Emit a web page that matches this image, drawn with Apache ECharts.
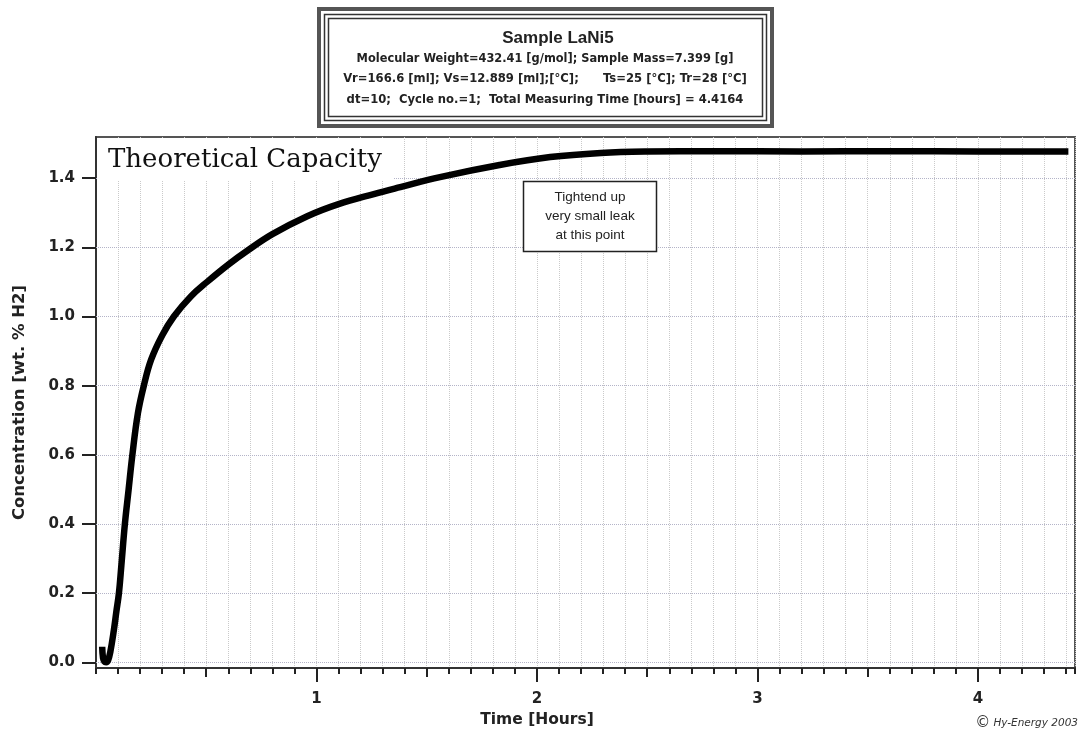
<!DOCTYPE html>
<html>
<head>
<meta charset="utf-8">
<script src="https://cdn.jsdelivr.net/npm/echarts@6/dist/echarts.min.js"></script>
<style>
html,body{margin:0;padding:0;background:#fff;}
#chart{width:1084px;height:736px;}
</style>
</head>
<body>
<div id="chart"></div>
<script>
// ---- data ----
const timeHours = [0.028, 0.032, 0.038, 0.046, 0.055, 0.065, 0.081, 0.092, 0.104, 0.115, 0.131, 0.148, 0.165, 0.19, 0.217, 0.25, 0.3, 0.353, 0.43, 0.504, 0.6, 0.686, 0.8, 0.958, 1.1, 1.26, 1.38, 1.56, 1.83, 2.06, 2.29, 2.5, 2.8, 3.2, 3.6, 4.0, 4.41];
const concentration = [0.045, 0.012, 0.002, 0.0, 0.006, 0.03, 0.093, 0.145, 0.2, 0.28, 0.4, 0.5, 0.6, 0.72, 0.8, 0.875, 0.945, 1.0, 1.058, 1.1, 1.15, 1.19, 1.238, 1.29, 1.325, 1.354, 1.374, 1.403, 1.438, 1.461, 1.473, 1.477, 1.478, 1.477, 1.478, 1.477, 1.477];
const yTickValues = [0.0, 0.2, 0.4, 0.6, 0.8, 1.0, 1.2, 1.4];
const xMajorTicks = [1, 2, 3, 4];
const xHalfTicks = [0.5, 1.5, 2.5, 3.5];
const titleLines = [
  'Molecular Weight=432.41 [g/mol]; Sample Mass=7.399 [g]',
  'Vr=166.6 [ml]; Vs=12.889 [ml];[°C];      Ts=25 [°C]; Tr=28 [°C]',
  'dt=10;  Cycle no.=1;  Total Measuring Time [hours] = 4.4164'
];
const annotationLines = ['Tightend up', 'very small leak', 'at this point'];

const seriesData = timeHours.map((t, i) => [t, concentration[i]]);

const chart = echarts.init(document.getElementById('chart'), null, {renderer: 'canvas'});
const FONT = 'DejaVu Sans';
const X_MIN = 0, X_MAX = 4.44, Y_MIN = -0.0165, Y_MAX = 1.519;

const baseX = {
  type: 'value', min: X_MIN, max: X_MAX, position: 'bottom',
  axisLine: {show: true, onZero: false, lineStyle: {color: '#333', width: 2}},
  axisLabel: {show: false}, splitLine: {show: false}
};

const option = {
  backgroundColor: '#fff',
  animation: false,
  grid: {left: 96, right: 9, top: 137, bottom: 68, show: true, borderColor: '#555', borderWidth: 2, containLabel: false},
  xAxis: [
    Object.assign({}, baseX, {
      interval: 0.1,
      axisTick: {show: true, length: 6, lineStyle: {color: '#222', width: 2}},
      splitLine: {show: true, lineStyle: {color: '#cacaca', type: 'dotted', width: 1}}
    }),
    Object.assign({}, baseX, {
      axisTick: {show: true, length: 9, customValues: xHalfTicks, lineStyle: {color: '#222', width: 2}}
    }),
    Object.assign({}, baseX, {
      axisTick: {show: true, length: 14, customValues: xMajorTicks, lineStyle: {color: '#222', width: 2}},
      axisLabel: {show: true, customValues: xMajorTicks, margin: 24, color: '#222',
        fontFamily: FONT, fontWeight: 'bold', fontSize: 15, formatter: v => String(v)}
    })
  ],
  yAxis: {
    type: 'value', min: Y_MIN, max: Y_MAX,
    name: 'Concentration [wt. % H2]', nameLocation: 'middle', nameGap: 68,
    nameTextStyle: {color: '#222', fontFamily: FONT, fontWeight: 'bold', fontSize: 16.5},
    axisLine: {show: true, onZero: false, lineStyle: {color: '#333', width: 2}},
    axisTick: {show: true, length: 14, customValues: yTickValues, lineStyle: {color: '#222', width: 2}},
    axisLabel: {show: true, customValues: yTickValues, margin: 21, color: '#222',
      fontFamily: FONT, fontWeight: 'bold', fontSize: 15, formatter: v => v.toFixed(1)},
    splitLine: {show: false}
  },
  series: [
    {
      type: 'line', data: [], z: 1, silent: true,
      markLine: {
        silent: true, symbol: ['none', 'none'], label: {show: false}, animation: false,
        lineStyle: {color: '#b4b4c8', type: 'dotted', width: 1},
        data: yTickValues.map(v => ({yAxis: v}))
      }
    },
    {
      type: 'line', data: seriesData, z: 5, showSymbol: false, smooth: 0.4,
      lineStyle: {color: '#000', width: 6.5}, silent: true
    }
  ],
  graphic: [
    // title box
    {type: 'rect', shape: {x: 319, y: 9, width: 453, height: 117}, style: {fill: '#fff', stroke: '#555', lineWidth: 4}, z: 10},
    {type: 'rect', shape: {x: 324.5, y: 14.5, width: 442, height: 106}, style: {fill: 'none', stroke: '#333', lineWidth: 1.5}, z: 11},
    {type: 'rect', shape: {x: 328.5, y: 18.5, width: 434, height: 98}, style: {fill: 'none', stroke: '#333', lineWidth: 1.5}, z: 11},
    {type: 'text', x: 558, y: 38, style: {text: 'Sample LaNi5', fill: '#222', font: 'bold 17px "Liberation Sans"', align: 'center', verticalAlign: 'middle'}, z: 12},
    {type: 'text', x: 545, y: 59, style: {text: titleLines[0], fill: '#222', font: 'bold 11.4px "DejaVu Sans"', align: 'center', verticalAlign: 'middle'}, z: 12},
    {type: 'text', x: 545, y: 79, style: {text: titleLines[1], fill: '#222', font: 'bold 11.6px "DejaVu Sans"', align: 'center', verticalAlign: 'middle'}, z: 12},
    {type: 'text', x: 545, y: 100, style: {text: titleLines[2], fill: '#222', font: 'bold 11.6px "DejaVu Sans"', align: 'center', verticalAlign: 'middle'}, z: 12},
    // Theoretical Capacity label
    {type: 'rect', shape: {x: 98, y: 138, width: 296, height: 43}, style: {fill: '#fff'}, z: 8},
    {type: 'text', x: 108, y: 160, style: {text: 'Theoretical Capacity', fill: '#111', font: '26px "DejaVu Serif"', align: 'left', verticalAlign: 'middle'}, z: 9},
    // annotation
    {type: 'rect', shape: {x: 523.5, y: 181.5, width: 133, height: 70}, style: {fill: '#fff', stroke: '#222', lineWidth: 1.5}, z: 8},
    {type: 'text', x: 590, y: 216, style: {text: annotationLines.join('\n'), fill: '#222', font: '13.5px "Liberation Sans"', align: 'center', verticalAlign: 'middle', lineHeight: 19}, z: 9},
    // x axis name
    {type: 'text', x: 537, y: 720, style: {text: 'Time [Hours]', fill: '#222', font: 'bold 15.5px "DejaVu Sans"', align: 'center', verticalAlign: 'middle'}, z: 9},
    // copyright
    {type: 'text', x: 1078, y: 723, style: {
      text: '{c|©} {t|Hy-Energy 2003}', align: 'right', verticalAlign: 'middle',
      rich: {c: {fill: '#333', font: '15px "DejaVu Sans"'}, t: {fill: '#333', font: 'italic 10.5px "DejaVu Sans"'}}
    }, z: 9}
  ]
};
chart.setOption(option);
</script>
</body>
</html>
